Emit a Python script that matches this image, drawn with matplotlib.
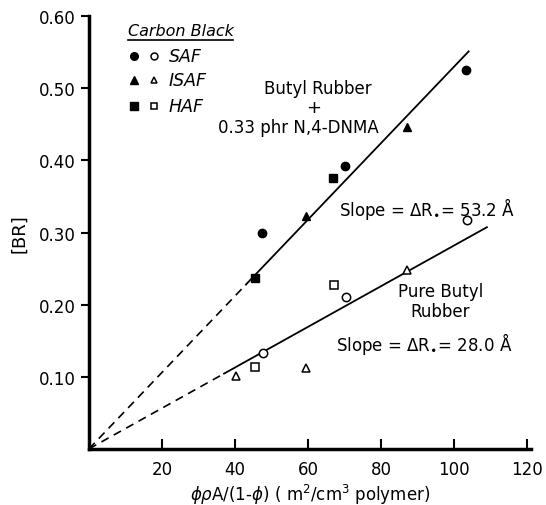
import matplotlib
matplotlib.use("Agg")
import matplotlib.pyplot as plt
import numpy as np

# data
# butyl rubber + 0.33 phr N,4-DNMA (filled markers)
saf_x_dnma = [47.3, 70.1, 103.3]
saf_y_dnma = [0.300, 0.392, 0.525]
isaf_x_dnma = [59.5, 87.2]
isaf_y_dnma = [0.323, 0.446]
haf_x_dnma = [45.4, 66.8]
haf_y_dnma = [0.237, 0.375]

# pure butyl rubber (open markers)
saf_x_pure = [47.6, 70.4, 103.5]
saf_y_pure = [0.133, 0.210, 0.317]
isaf_x_pure = [40.3, 59.5, 87.2]
isaf_y_pure = [0.101, 0.112, 0.248]
haf_x_pure = [45.4, 67.1]
haf_y_pure = [0.113, 0.227]

# fitted lines through origin (slope per unit x) and their solid / dashed ranges
slope_dnma = 0.0053
slope_pure = 0.00282
dash_end_dnma, solid_end_dnma = 43, 104
dash_end_pure, solid_end_pure = 37, 109

x_ticks = [20, 40, 60, 80, 100, 120]
y_ticks = [0.10, 0.20, 0.30, 0.40, 0.50, 0.60]

plt.rcParams['font.family'] = ['DejaVu Sans']

fig = plt.figure(figsize=(5.46, 5.06), dpi=100)
ax = fig.add_axes([0.163, 0.111, 0.809, 0.855])

# lines
xd = np.array([0, dash_end_dnma])
ax.plot(xd, slope_dnma * xd, 'k--', lw=1.2, dashes=(5, 3.5))
xs = np.array([dash_end_dnma, solid_end_dnma])
ax.plot(xs, slope_dnma * xs, 'k-', lw=1.3)
xd = np.array([0, dash_end_pure])
ax.plot(xd, slope_pure * xd, 'k--', lw=1.2, dashes=(5, 3.5))
xs = np.array([dash_end_pure, solid_end_pure])
ax.plot(xs, slope_pure * xs, 'k-', lw=1.3)

# markers
ms = 6
ax.plot(saf_x_dnma, saf_y_dnma, 'ko', ms=ms, ls='none')
ax.plot(isaf_x_dnma, isaf_y_dnma, 'k^', ms=ms, ls='none')
ax.plot(haf_x_dnma, haf_y_dnma, 'ks', ms=ms, ls='none')
ax.plot(saf_x_pure, saf_y_pure, 'o', mfc='white', mec='k', mew=1.1, ms=ms, ls='none')
ax.plot(isaf_x_pure, isaf_y_pure, '^', mfc='white', mec='k', mew=1.1, ms=ms, ls='none')
ax.plot(haf_x_pure, haf_y_pure, 's', mfc='white', mec='k', mew=1.1, ms=ms, ls='none')

ax.set_xlim(0, 121)
ax.set_ylim(0, 0.60)
ax.set_xticks(x_ticks)
ax.set_xticklabels([str(t) for t in x_ticks])
ax.set_yticks(y_ticks)
ax.set_yticklabels([f"{t:.2f}" for t in y_ticks])
ax.tick_params(axis='x', direction='in', length=7, width=1.5, labelsize=12, pad=8)
ax.tick_params(axis='y', direction='out', length=6, width=1.5, labelsize=12)

for side in ['top', 'right']:
    ax.spines[side].set_visible(False)
for side in ['left', 'bottom']:
    ax.spines[side].set_linewidth(2.5)

ax.set_xlabel(r"$\phi\rho$A/(1-$\phi$) ( m$^2$/cm$^3$ polymer)", fontsize=12, labelpad=3)
ax.set_ylabel("[BR]", fontsize=13, labelpad=8)

# legend drawn as text + markers
ax.text(0.088, 0.968, "Carbon Black", transform=ax.transAxes, fontsize=11.5,
        style='italic', va='center')
ax.plot([0.088, 0.326], [0.945, 0.945], 'k-', lw=1.2, transform=ax.transAxes)
rows = [("SAF", 'o', 0.908), ("ISAF", '^', 0.852), ("HAF", 's', 0.792)]
for name, m, yy in rows:
    ax.plot(0.102, yy, m, color='k', ms=5.5, transform=ax.transAxes)
    ax.plot(0.147, yy, m, mfc='white', mec='k', mew=1.1, ms=5, transform=ax.transAxes)
    ax.text(0.180, yy, name, transform=ax.transAxes, fontsize=12.5, style='italic', va='center')

# annotations
ax.text(62.8, 0.501, "Butyl Rubber", fontsize=12, ha='center', va='center')
ax.text(61.5, 0.474, "+", fontsize=13, ha='center', va='center')
ax.text(57.3, 0.446, "0.33 phr N,4-DNMA", fontsize=12, ha='center', va='center')
ax.text(68.5, 0.334, r"Slope = $\Delta$R$_{\bullet}$= 53.2 Å", fontsize=12, va='center')
ax.text(96.2, 0.219, "Pure Butyl", fontsize=12, ha='center', va='center')
ax.text(96.2, 0.191, "Rubber", fontsize=12, ha='center', va='center')
ax.text(67.7, 0.147, r"Slope = $\Delta$R$_{\bullet}$= 28.0 Å", fontsize=12, va='center')

fig.savefig("out.png", dpi=100)
